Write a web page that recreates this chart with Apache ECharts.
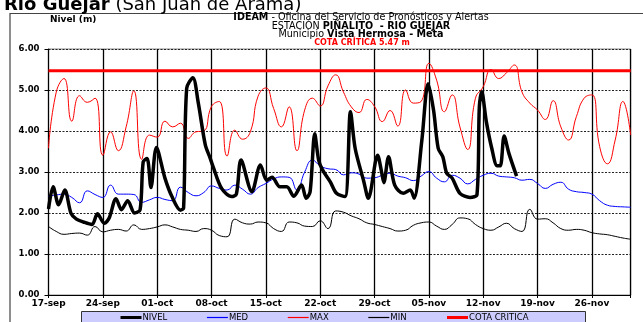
<!DOCTYPE html>
<html>
<head>
<meta charset="utf-8">
<script src="https://cdn.jsdelivr.net/npm/echarts@6/dist/echarts.min.js"></script>
<style>
body { margin: 0; background: #fff; }
#chart { width: 643px; height: 322px; }
</style>
</head>
<body>
<div id="chart"></div>
<script>
// etiquetas semanales del eje x (dia 0 = 17-sep)
const weekLabels = ["17-sep", "24-sep", "01-oct", "08-oct", "15-oct", "22-oct", "29-oct", "05-nov", "12-nov", "19-nov", "26-nov"];

// valores diarios (dias 0..75)
const maxValues = [3.58, 4.95, 5.28, 4.24, 4.86, 4.70, 4.80, 3.41, 3.98, 3.52,
  4.10, 4.98, 3.31, 3.90, 3.85, 4.24, 4.10, 4.19, 3.82, 3.98,
  4.00, 4.60, 4.72, 3.39, 4.02, 3.80, 3.98, 4.85, 5.05, 4.55,
  4.10, 4.59, 3.52, 4.51, 4.80, 4.61, 5.10, 5.37, 4.95, 4.59,
  4.45, 4.77, 4.60, 4.23, 4.50, 4.12, 5.00, 4.68, 4.72, 5.65,
  5.24, 4.47, 4.88, 4.10, 3.55, 4.80, 5.08, 5.50, 5.28, 5.42,
  5.61, 4.95, 4.68, 4.51, 4.28, 4.74, 4.10, 3.78, 4.35, 4.80,
  4.88, 3.62, 3.20, 3.78, 4.72, 3.90];

const medValues = [2.41, 2.44, 2.46, 2.38, 2.25, 2.54, 2.45, 2.38, 2.68, 2.46,
  2.46, 2.45, 2.26, 2.32, 2.38, 2.33, 2.30, 2.63, 2.50, 2.42,
  2.50, 2.66, 2.60, 2.56, 2.68, 2.58, 2.46, 2.62, 2.72, 2.83,
  2.88, 2.87, 2.56, 3.00, 3.29, 3.15, 3.08, 3.06, 2.93, 2.98,
  2.95, 2.85, 2.86, 2.92, 2.97, 2.90, 2.86, 2.79, 2.90, 3.01,
  2.85, 2.76, 2.92, 2.85, 2.71, 2.82, 2.92, 2.97, 2.90, 2.88,
  2.86, 2.80, 2.82, 2.72, 2.60, 2.70, 2.75, 2.58, 2.52, 2.50,
  2.46, 2.30, 2.19, 2.16, 2.15, 2.14];

const minValues = [1.67, 1.55, 1.48, 1.50, 1.51, 1.46, 1.67, 1.54, 1.58, 1.60,
  1.56, 1.71, 1.60, 1.62, 1.66, 1.71, 1.66, 1.60, 1.58, 1.55,
  1.62, 1.58, 1.45, 1.42, 1.85, 1.76, 1.73, 1.78, 1.76, 1.62,
  1.55, 1.78, 1.76, 1.68, 1.67, 1.81, 1.62, 2.05, 2.02, 1.93,
  1.86, 1.76, 1.72, 1.67, 1.62, 1.56, 1.58, 1.70, 1.76, 1.78,
  1.68, 1.60, 1.72, 1.88, 1.86, 1.72, 1.62, 1.58, 1.66, 1.75,
  1.62, 1.55, 2.09, 1.85, 1.86, 1.76, 1.62, 1.58, 1.60, 1.58,
  1.52, 1.49, 1.47, 1.43, 1.39, 1.36];

// nivel observado (instantes en dias desde 17-sep)
const nivelDays = [0, 0.6, 1.3, 2.1, 2.9, 3.6, 4.5, 5.6, 6.3, 7.2, 7.8, 8.7, 9.4, 10.2, 11.1, 11.8,
  12.2, 12.7, 13.2, 13.9, 15.0, 15.9, 17.0, 17.4, 17.8, 18.6, 19.3, 20.2, 20.8, 21.2,
  22.3, 23.6, 24.2, 24.8, 26.2, 27.3, 28.1, 28.8, 29.8, 30.7, 31.6, 32.6, 33.2, 33.7,
  34.3, 34.8, 35.3, 36.3, 37.1, 38.2, 38.9, 39.5, 40.6, 41.2, 42.4, 42.9, 43.2, 43.8,
  44.6, 45.7, 46.6, 47.1, 48.1, 48.9, 49.6, 50.2, 50.8, 51.3, 52.0, 53.0, 54.3, 55.2,
  55.5, 55.8, 56.4, 57.1, 57.8, 58.2, 58.7, 59.3, 60.3];
const nivelValues = [2.10, 2.64, 2.20, 2.56, 1.99, 1.85, 1.78, 1.72, 1.98, 1.75, 1.87, 2.35, 2.08, 2.30, 2.00, 2.08,
  3.25, 3.33, 2.62, 3.60, 2.85, 2.40, 2.07, 2.12, 5.04, 5.30, 4.68, 3.66, 3.35, 3.13,
  2.60, 2.40, 2.46, 3.29, 2.52, 3.17, 2.80, 2.87, 2.64, 2.64, 2.41, 2.68, 2.36, 2.52,
  3.93, 3.29, 3.05, 2.76, 2.48, 2.40, 4.47, 3.58, 2.78, 2.36, 3.41, 3.01, 2.74, 3.37,
  2.68, 2.48, 2.56, 2.36, 3.78, 5.15, 4.51, 3.58, 3.37, 2.97, 2.85, 2.48, 2.38, 2.45,
  4.59, 4.96, 4.23, 3.58, 3.15, 3.15, 3.88, 3.46, 2.90];

const cotaDays = [0, 75];
const cotaValues = [5.47, 5.47];

const font = "DejaVu Sans";

const myChart = echarts.init(document.getElementById("chart"));

const daily = (arr) => arr.map((v, i) => [i, v]);

const headStyle = (size) => ({
  fontFamily: font, fontSize: size, fontWeight: "normal", color: "#000",
  rich: { b: { fontFamily: font, fontSize: size, fontWeight: "bold", color: "#000" } }
});

myChart.setOption({
  animation: false,
  backgroundColor: "#fff",
  textStyle: { fontFamily: font },
  title: [
    {
      text: "{b|Rio Guejar} (San Juan de Arama)",
      left: 4, top: -4, padding: 0,
      textStyle: headStyle(18)
    },
    {
      text: "Nivel (m)", left: 50, top: 15.5, padding: 0,
      textStyle: { fontFamily: font, fontSize: 9, fontWeight: "bold", color: "#000" }
    },
    {
      text: "{b|IDEAM} - Oficina del Servicio de Pronósticos y Alertas",
      left: 361, top: 12.5, textAlign: "center", padding: 0,
      textStyle: headStyle(9.6)
    },
    {
      text: "ESTACIÓN {b|PIÑALITO  - RIO GUEJAR}",
      left: 361, top: 21.2, textAlign: "center", padding: 0,
      textStyle: headStyle(9.6)
    },
    {
      text: "Municipio {b|Vista Hermosa - Meta}",
      left: 361, top: 29.9, textAlign: "center", padding: 0,
      textStyle: headStyle(9.6)
    },
    {
      text: "COTA CRÍTICA 5.47 m",
      left: 362, top: 39.2, textAlign: "center", padding: 0,
      textStyle: { fontFamily: font, fontSize: 8, fontWeight: "bold", color: "#ff0000" }
    }
  ],
  graphic: [
    {
      type: "rect", z: 0,
      shape: { x: 10, y: 13.5, width: 640, height: 320 },
      style: { fill: "none", stroke: "#444", lineWidth: 1.2 }
    },
    {
      type: "rect", z: 0,
      shape: { x: 81.5, y: 311.5, width: 504, height: 16 },
      style: { fill: "#ccccff", stroke: "#333", lineWidth: 1 }
    }
  ],
  legend: {
    left: 119, top: 313, z: 10,
    itemWidth: 21, itemHeight: 8, itemGap: 39,
    selectedMode: false,
    padding: 0,
    itemStyle: { opacity: 0 },
    textStyle: { fontFamily: font, fontSize: 8.5, color: "#000", padding: [0, 0, 0, -4] },
    data: [
      { name: "NIVEL", lineStyle: { width: 3 } },
      { name: "MED", lineStyle: { width: 1.2 } },
      { name: "MAX", lineStyle: { width: 1.2 } },
      { name: "MIN", lineStyle: { width: 1.2 } },
      { name: "COTA CRITICA", lineStyle: { width: 3 } }
    ]
  },
  grid: {
    left: 48.5, right: 12.3, top: 49, bottom: 27,
    show: true, borderColor: "#888", borderWidth: 1
  },
  xAxis: {
    type: "value", min: 0, max: 75, interval: 7,
    axisLine: { show: true, lineStyle: { color: "#000", width: 1 } },
    axisTick: { show: true, length: 3, lineStyle: { color: "#000" } },
    axisLabel: {
      fontFamily: font, fontSize: 9, fontWeight: "bold", color: "#000", margin: 4,
      formatter: (v) => (v % 7 === 0 ? weekLabels[v / 7] : "")
    },
    splitLine: { show: true, lineStyle: { color: "#000", width: 1.3 } }
  },
  yAxis: {
    type: "value", min: 0, max: 6, interval: 1,
    axisLine: { show: true, lineStyle: { color: "#000", width: 1 } },
    axisTick: { show: true, length: 4, lineStyle: { color: "#000" } },
    axisLabel: {
      fontFamily: font, fontSize: 8.5, fontWeight: "bold", color: "#000", margin: 9,
      formatter: (v) => v.toFixed(2)
    },
    splitLine: { show: true, lineStyle: { color: "#222", width: 1, type: [2, 1.5] } }
  },
  series: [
    {
      name: "MAX", type: "line", data: daily(maxValues), symbol: "none", smooth: 0.5,
      lineStyle: { color: "#ff0000", width: 1 }, itemStyle: { color: "#ff0000" }, z: 2
    },
    {
      name: "MED", type: "line", data: daily(medValues), symbol: "none", smooth: 0.5,
      lineStyle: { color: "#0000ff", width: 1 }, itemStyle: { color: "#0000ff" }, z: 2
    },
    {
      name: "MIN", type: "line", data: daily(minValues), symbol: "none", smooth: 0.5,
      lineStyle: { color: "#000", width: 1 }, itemStyle: { color: "#000" }, z: 2
    },
    {
      name: "COTA CRITICA", type: "line", data: cotaDays.map((d, i) => [d, cotaValues[i]]), symbol: "none",
      lineStyle: { color: "#ff0000", width: 3 }, itemStyle: { color: "#ff0000" }, z: 3
    },
    {
      name: "NIVEL", type: "line", data: nivelDays.map((d, i) => [d, nivelValues[i]]), symbol: "none", smooth: 0.3,
      lineStyle: { color: "#000", width: 3.5 }, itemStyle: { color: "#000" }, z: 4
    }
  ]
});
</script>
</body>
</html>
